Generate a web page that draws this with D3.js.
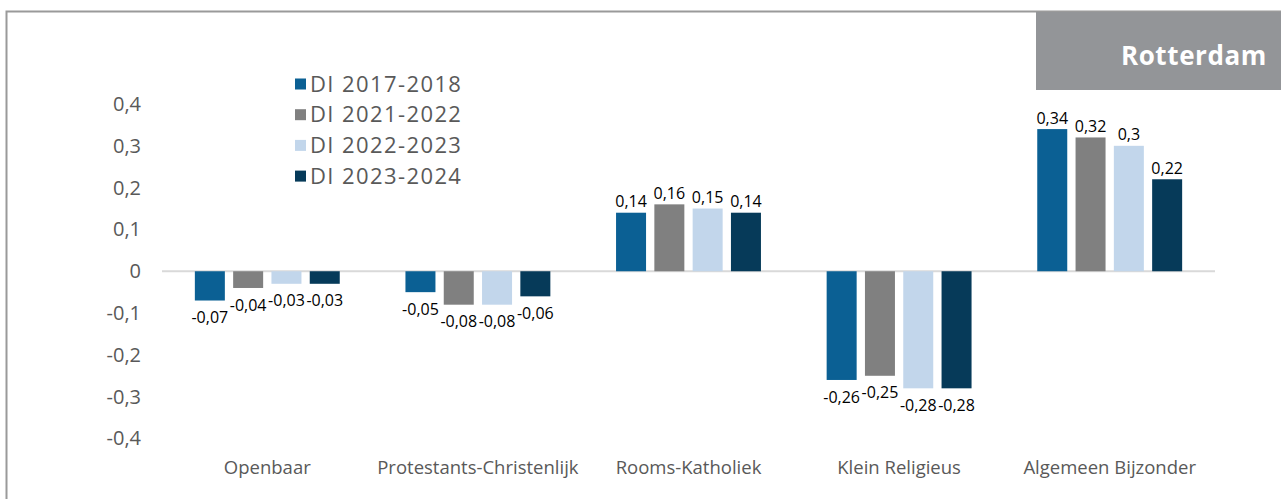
<!DOCTYPE html>
<html>
<head>
<meta charset="utf-8">
<script src="https://cdn.jsdelivr.net/npm/d3@7"></script>
<style>
  body { margin: 0; background: #fff; }
  svg { display: block; font-family: "Open Sans", sans-serif; }
</style>
</head>
<body>
<svg></svg>
<script>
(function (d3) {
  'use strict';

  const categories = ['Openbaar', 'Protestants-Christenlijk', 'Rooms-Katholiek', 'Klein Religieus', 'Algemeen Bijzonder'];
  const seriesNames = ['DI 2017-2018', 'DI 2021-2022', 'DI 2022-2023', 'DI 2023-2024'];
  const di2017 = [-0.07, -0.05, 0.14, -0.26, 0.34];
  const di2021 = [-0.04, -0.08, 0.16, -0.25, 0.32];
  const di2022 = [-0.03, -0.08, 0.15, -0.28, 0.30];
  const di2023 = [-0.03, -0.06, 0.14, -0.28, 0.22];
  const yTicks = [0.4, 0.3, 0.2, 0.1, 0, -0.1, -0.2, -0.3, -0.4];
  const colors = ['#0b6094', '#808080', '#c2d6eb', '#063a59'];

  const series = [di2017, di2021, di2022, di2023];

  const width = 1281, height = 499;
  const svg = d3.select('svg').attr('width', width).attr('height', height);

  // frame
  svg.append('path')
    .attr('d', `M6.5,${height} V11.5 H${width}`)
    .attr('fill', 'none')
    .attr('stroke', '#9a9a9a')
    .attr('stroke-width', 2);

  // title box
  svg.append('rect')
    .attr('x', 1036).attr('y', 12)
    .attr('width', width - 1036).attr('height', 78)
    .attr('fill', '#939598');
  svg.append('text')
    .attr('x', 1267).attr('y', 56)
    .attr('dy', '0.35em')
    .attr('text-anchor', 'end')
    .attr('fill', '#fff')
    .attr('font-weight', 'bold')
    .attr('font-size', 26)
    .attr('letter-spacing', 0.6)
    .text('Rotterdam');

  const x0 = d3.scaleBand().domain(categories).range([162, 1215]);
  const y = d3.scaleLinear().domain([-0.4, 0.4]).range([438.5, 104]);
  const fmt = v => String(v).replace('.', ',');

  // y tick labels
  const yAxis = d3.axisLeft(y).tickValues(yTicks).tickSize(0).tickPadding(0).tickFormat(fmt);
  const ya = svg.append('g').attr('transform', 'translate(141,0)').call(yAxis);
  ya.select('.domain').remove();
  ya.selectAll('text').attr('fill', '#595959').attr('font-size', 20).attr('font-family', '"Open Sans", sans-serif');

  // zero line
  svg.append('line')
    .attr('x1', 162).attr('x2', 1215)
    .attr('y1', y(0)).attr('y2', y(0))
    .attr('stroke', '#d9d9d9').attr('stroke-width', 2);

  // category labels
  const xAxis = d3.axisBottom(x0).tickSize(0).tickPadding(0);
  const xa = svg.append('g').attr('transform', 'translate(0,469)').call(xAxis);
  xa.select('.domain').remove();
  xa.selectAll('text').attr('fill', '#595959').attr('font-size', 18.5).attr('dy', 0).attr('dominant-baseline', 'middle').attr('font-family', '"Open Sans", sans-serif');

  const barW = 30, gap = 8.3;
  const x1 = d3.scaleBand().domain(d3.range(4)).range([0, 4 * barW + 3 * gap]).paddingInner(gap / (barW + gap));

  const rows = [];
  categories.forEach((c, i) => series.forEach((s, j) => rows.push({ c, j, v: s[i] })));

  const groupOff = c => x0(c) + (x0.bandwidth() - (4 * barW + 3 * gap)) / 2;

  svg.append('g').selectAll('rect').data(rows).join('rect')
    .attr('x', d => groupOff(d.c) + x1(d.j))
    .attr('width', x1.bandwidth())
    .attr('y', d => y(Math.max(0, d.v)))
    .attr('height', d => Math.abs(y(d.v) - y(0)))
    .attr('fill', d => colors[d.j]);

  svg.append('g').selectAll('text').data(rows).join('text')
    .attr('x', d => groupOff(d.c) + x1(d.j) + x1.bandwidth() / 2)
    .attr('y', d => d.v >= 0 ? y(d.v) - 11 : y(d.v) + 17)
    .attr('dy', '0.35em')
    .attr('text-anchor', 'middle')
    .attr('font-size', 16)
    .attr('fill', '#000')
    .text(d => fmt(d.v));

  // legend
  const lg = svg.append('g').attr('transform', 'translate(295,84)');
  const li = lg.selectAll('g').data(seriesNames).join('g')
    .attr('transform', (d, i) => `translate(0,${i * 30.7})`);
  li.append('rect').attr('x', 0).attr('y', -5.5).attr('width', 11).attr('height', 11)
    .attr('fill', (d, i) => colors[i]);
  li.append('text').attr('x', 15).attr('dy', '0.35em')
    .attr('font-size', 22).attr('letter-spacing', 1.4).attr('fill', '#595959')
    .text(d => d);

}(d3));
</script>
</body>
</html>
